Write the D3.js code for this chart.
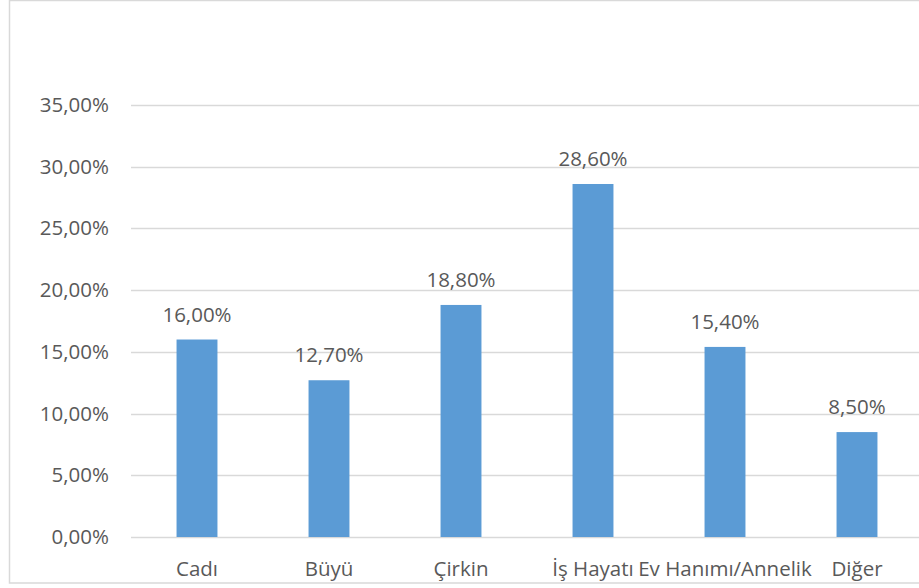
<!DOCTYPE html>
<html>
<head>
<meta charset="utf-8">
<script src="https://cdn.jsdelivr.net/npm/d3@7"></script>
<style>
  html, body { margin: 0; padding: 0; background: #fff; }
  svg { display: block; }
  text { font-family: "Open Sans", Lato, sans-serif; fill: #595959; }
</style>
</head>
<body>
<svg id="chart" width="919" height="588"></svg>
<script>
// Category labels and their shares (percent)
const categories = ["Cadı", "Büyü", "Çirkin", "İş Hayatı", "Ev Hanımı/Annelik", "Diğer"];
const values = [16.0, 12.7, 18.8, 28.6, 15.4, 8.5];
const yTicks = [0, 5, 10, 15, 20, 25, 30, 35];

const svg = d3.select("#chart");
const W = 919, H = 588;
const FONT = "'Open Sans', Lato, sans-serif";
const FS = 20.5;

// Chart frame
svg.append("rect")
  .attr("x", 9.5).attr("y", 0.5)
  .attr("width", W + 20).attr("height", 582.5)
  .attr("fill", "#fff")
  .attr("stroke", "#d9d9d9")
  .attr("stroke-width", 1.5);

const plot = { left: 131, right: 923, top: 105, bottom: 537 };

const x = d3.scaleBand()
  .domain(categories)
  .range([plot.left, plot.right])
  .paddingInner(0.69)
  .paddingOuter(0.345);

const y = d3.scaleLinear()
  .domain([0, 35])
  .range([plot.bottom, plot.top]);

const fmt = v => d3.format(".2f")(v).replace(".", ",") + "%";

// Gridlines
svg.append("g")
  .selectAll("line")
  .data(yTicks)
  .join("line")
  .attr("x1", plot.left).attr("x2", plot.right)
  .attr("y1", d => Math.round(y(d)) + 0.5)
  .attr("y2", d => Math.round(y(d)) + 0.5)
  .attr("stroke", "#d9d9d9")
  .attr("stroke-width", 1.3);

// Y axis labels
const yAxis = d3.axisLeft(y)
  .tickValues(yTicks)
  .tickFormat(fmt)
  .tickSize(0)
  .tickPadding(22);
const gy = svg.append("g")
  .attr("transform", `translate(${plot.left},0)`)
  .call(yAxis);
gy.select(".domain").remove();
gy.selectAll("text")
  .attr("font-size", FS)
  .attr("fill", "#595959")
  .style("font-family", FONT);

// Bars
svg.append("g")
  .selectAll("rect")
  .data(values)
  .join("rect")
  .attr("x", (d, i) => x(categories[i]))
  .attr("width", x.bandwidth())
  .attr("y", d => y(d))
  .attr("height", d => y(0) - y(d))
  .attr("fill", "#5b9bd5");

// Value labels
svg.append("g")
  .selectAll("text")
  .data(values)
  .join("text")
  .attr("x", (d, i) => x(categories[i]) + x.bandwidth() / 2)
  .attr("y", d => y(d) - 18)
  .attr("text-anchor", "middle")
  .attr("font-size", FS)
  .style("font-family", FONT)
  .text(d => fmt(d));

// X axis labels
const xAxis = d3.axisBottom(x).tickSize(0).tickPadding(0);
const gx = svg.append("g")
  .attr("transform", `translate(0,${plot.bottom})`)
  .call(xAxis);
gx.select(".domain").remove();
gx.selectAll("text")
  .attr("dy", null)
  .attr("y", 39)
  .attr("font-size", FS)
  .attr("fill", "#595959")
  .style("font-family", FONT);
</script>
</body>
</html>
